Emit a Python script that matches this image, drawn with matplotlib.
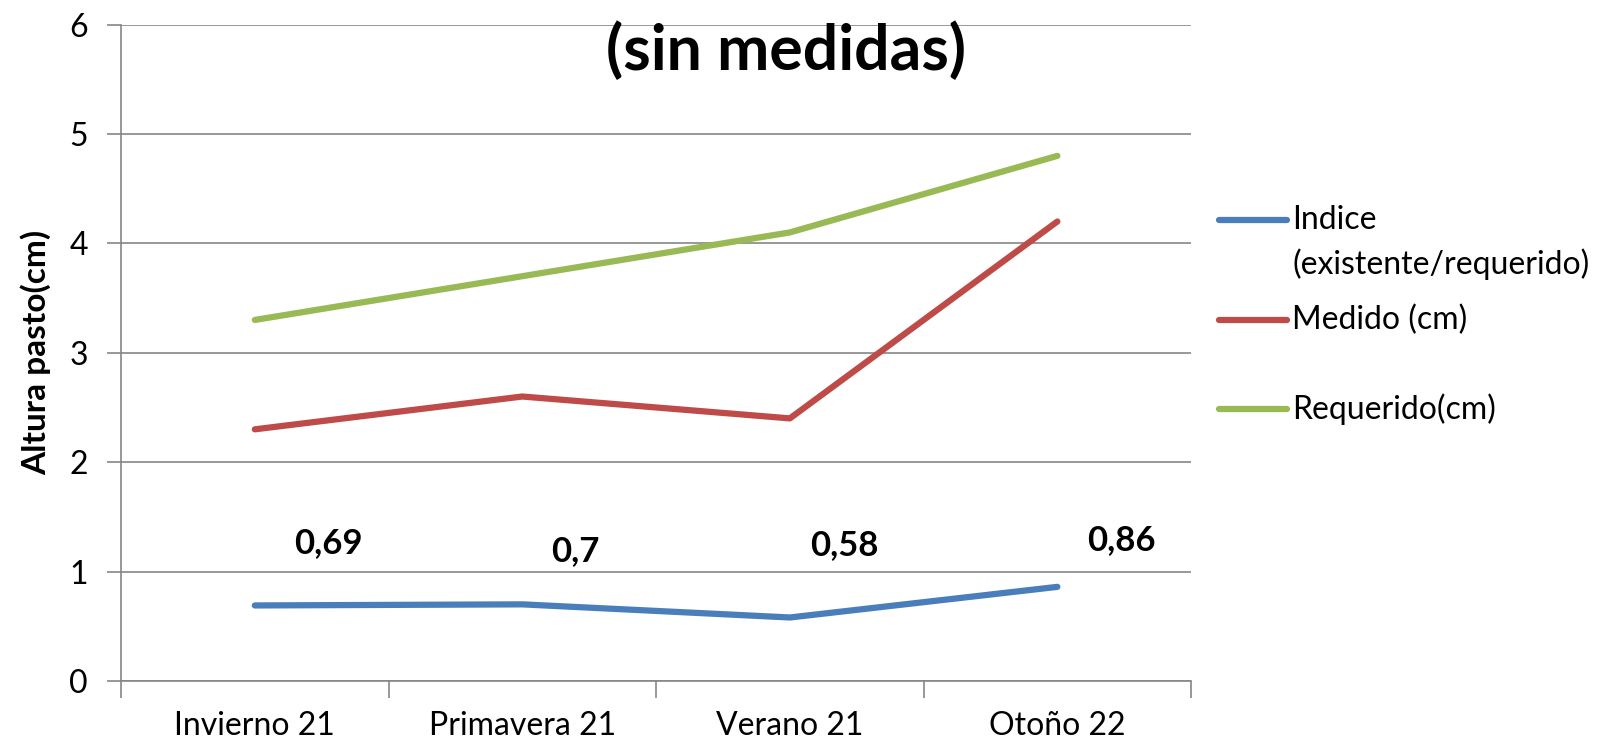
import matplotlib
matplotlib.use("Agg")
import matplotlib.pyplot as plt
from matplotlib.lines import Line2D

categories = ["Invierno 21", "Primavera 21", "Verano 21", "Otoño 22"]
indice = [0.69, 0.70, 0.58, 0.86]
medido = [2.3, 2.6, 2.4, 4.2]
requerido = [3.3, 3.7, 4.1, 4.8]
indice_labels = ["0,69", "0,7", "0,58", "0,86"]

plt.rcParams['font.family'] = ['Lato', 'DejaVu Sans']

fig = plt.figure(figsize=(16.14, 7.45), dpi=100)
ax = fig.add_axes([0.075, 0.086, 0.663, 0.881])

x = list(range(len(categories)))
ax.plot(x, indice, color='#4A7EBB', lw=4.5, solid_capstyle='round', zorder=3)
ax.plot(x, medido, color='#BE4B48', lw=4.5, solid_capstyle='round', zorder=3)
ax.plot(x, requerido, color='#98B954', lw=4.5, solid_capstyle='round', zorder=3)

# data labels for the index series (Excel puts them a bit up-right)
offsets = [(74, 62), (53, 53), (54, 72), (64, 47)]
for xi, yi, lab, (dx, dy) in zip(x, indice, indice_labels, offsets):
    ax.annotate(lab, (xi, yi), xytext=(dx * 0.72, dy * 0.72), textcoords='offset points',
                ha='center', va='center', fontsize=25, fontweight='bold')

ax.set_xlim(-0.5, 3.5)
ax.set_ylim(0, 6)
ax.set_yticks(range(0, 7))
ax.set_xticks(x)
ax.set_xticklabels(categories, fontsize=23)
ax.tick_params(axis='x', length=0, pad=22)
ax.set_xticks([-0.5, 0.5, 1.5, 2.5, 3.5], minor=True)
ax.tick_params(axis='x', which='minor', length=12, color='#868686', width=1.2)
ax.tick_params(axis='y', labelsize=23, length=10, color='#868686', width=1.2, pad=14)

ax.grid(axis='y', color='#868686', lw=1.2)
ax.set_axisbelow(True)
for side in ['top', 'right']:
    ax.spines[side].set_visible(False)
for side in ['left', 'bottom']:
    ax.spines[side].set_color('#868686')
    ax.spines[side].set_linewidth(1.2)

ax.set_ylabel('Altura pasto(cm)', fontsize=24, fontweight='bold', labelpad=13)

fig.text(0.487, 0.932, '(sin medidas)', ha='center', va='center', fontsize=45, fontweight='bold')

# legend drawn by hand to mimic Excel spacing
legend = [('#4A7EBB', ['Indice', '(existente/requerido)'], 220),
          ('#BE4B48', ['Medido (cm)'], 320),
          ('#98B954', ['Requerido(cm)'], 409)]
for color, lines, ypx in legend:
    yf = 1 - ypx / 745
    fig.add_artist(Line2D([1219 / 1614, 1287 / 1614], [yf, yf], color=color, lw=4.5,
                          solid_capstyle='round'))
    for i, line in enumerate(lines):
        fig.text(1292 / 1614, 1 - (ypx + 44 * i) / 745, line, ha='left', va='center',
                 fontsize=23)

fig.savefig('out.png', dpi=100)
